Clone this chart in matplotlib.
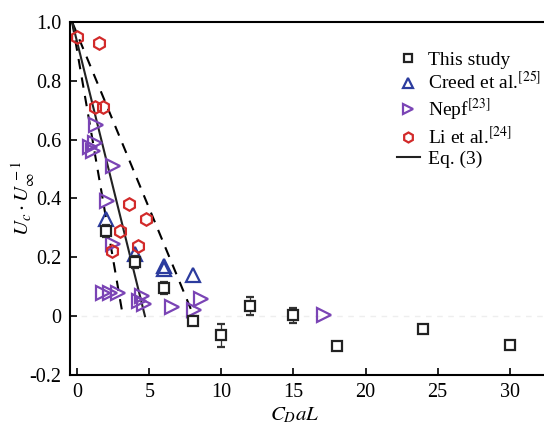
import matplotlib
matplotlib.use('Agg')
import matplotlib.pyplot as plt
import numpy as np

plt.rcParams['font.family'] = ['Liberation Serif', 'DejaVu Serif']
plt.rcParams['mathtext.fontset'] = 'stix'

# This study (with error bars)
study_x = [2, 4, 6, 8, 10, 12, 15, 18, 24, 30]
study_y = [0.29, 0.185, 0.097, -0.015, -0.065, 0.035, 0.003, -0.10, -0.042, -0.097]
study_err = [0.02, 0.02, 0.02, 0.015, 0.04, 0.03, 0.025, 0.0, 0.0, 0.01]

# Creed et al. [25]
creed_x = [2.0, 4.0, 6.0, 6.0, 8.0]
creed_y = [0.33, 0.21, 0.17, 0.16, 0.14]

# Nepf [23]
nepf_x = [1.3, 1.25, 0.9, 1.1, 2.45, 2.1, 2.5, 1.8, 2.3, 2.8, 4.5, 4.3, 4.6, 6.6, 8.1, 8.6, 17.1]
nepf_y = [0.65, 0.59, 0.575, 0.56, 0.51, 0.39, 0.245, 0.08, 0.08, 0.08, 0.07, 0.05, 0.04, 0.03, 0.02, 0.06, 0.005]

# Li et al. [24]
li_x = [0.0, 1.5, 1.2, 1.8, 3.6, 4.8, 3.0, 4.2, 2.4]
li_y = [0.95, 0.93, 0.71, 0.71, 0.38, 0.33, 0.29, 0.24, 0.22]

# Eq. (3) and its bounds
eq_x = [-0.35, 4.7]
eq_y = [1.0, 0.0]
low_x = [-0.35, 3.1]
low_y = [1.0, 0.02]
high_x = [-0.35, 8.0]
high_y = [1.0, 0.01]

xticks = [0, 5, 10, 15, 20, 25, 30]
yticks = [-0.2, 0, 0.2, 0.4, 0.6, 0.8, 1.0]
ytick_labels = ['-0.2', '0', '0.2', '0.4', '0.6', '0.8', '1.0']

fig = plt.figure(figsize=(5.44, 4.25), dpi=100)
ax = fig.add_axes([70/544, 50/425, 483/544, 353/425])

ax.axhline(0, color='#eeeeee', lw=1, ls=(0, (4, 4)), zorder=0)

ax.plot(low_x, low_y, color='black', lw=1.5, ls=(0, (5, 4)), zorder=1)
ax.plot(high_x, high_y, color='black', lw=1.5, ls=(0, (5, 4)), zorder=1)
eq_line, = ax.plot(eq_x, eq_y, color='#222222', lw=1.5, zorder=1)

study = ax.errorbar(study_x, study_y, yerr=study_err, fmt='s', ms=7, mfc='white', mec='#222222',
                    mew=1.6, ecolor='#333333', elinewidth=0.9, capsize=3, capthick=0.9,
                    zorder=4)
creed, = ax.plot(creed_x, creed_y, '^', ms=9.5, mfc='none', mec='#2c3c9e', mew=1.6, zorder=3)
nepf, = ax.plot(nepf_x, nepf_y, '>', ms=9.5, mfc='none', mec='#7a44b5', mew=1.6, zorder=3)
li, = ax.plot(li_x, li_y, 'h', ms=9, mfc='none', mec='#d22a2a', mew=1.6, zorder=3)

ax.set_xlim(-0.5, 33)
ax.set_ylim(-0.2, 1.0)
ax.set_xticks(xticks)
ax.set_yticks(yticks)
ax.set_yticklabels(ytick_labels)
ax.tick_params(direction='in', length=5, width=1.2, labelsize=14.5, pad=6)
ax.spines['right'].set_visible(False)
for s in ['left', 'top', 'bottom']:
    ax.spines[s].set_linewidth(1.5)

ax.set_xlabel(r'$C_{D}aL$', fontsize=15)
ax.xaxis.set_label_coords((295 - 70) / 483, -0.088)
ax.set_ylabel(r'$U_c\cdot U_\infty^{\,-1}$', fontsize=15)
ax.yaxis.set_label_coords(-0.068, 0.5)

# legend: square only for this study (no error bar)
ax.legend([study[0], creed, nepf, li, eq_line],
          ['This study', 'Creed et al.$^{[25]}$', 'Nepf$^{[23]}$', 'Li et al.$^{[24]}$', 'Eq. (3)'],
          loc='upper left', bbox_to_anchor=(0.66, 0.94),
          frameon=False, fontsize=14, handlelength=1.2, handletextpad=0.4,
          labelspacing=0.15, borderaxespad=0, markerscale=0.8)

fig.savefig('out.png', dpi=100)
